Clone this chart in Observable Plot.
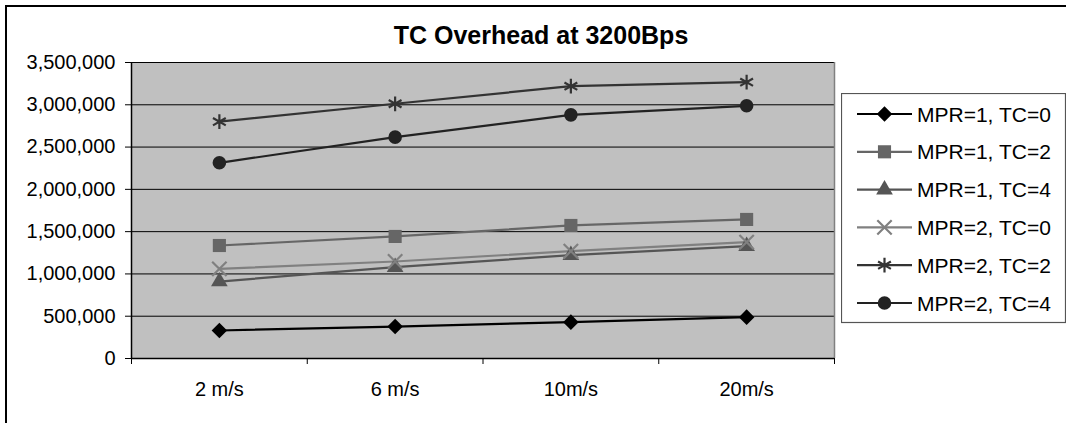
<!DOCTYPE html>
<html>
<head>
<meta charset="utf-8">
<script src="https://cdn.jsdelivr.net/npm/d3@7"></script>
<script src="https://cdn.jsdelivr.net/npm/@observablehq/plot@0.6"></script>
<style>
  html, body { margin: 0; padding: 0; background: #fff; }
  #wrap { position: relative; width: 1066px; height: 423px; overflow: hidden; font-family: "Liberation Sans", Arial, sans-serif; }
  #border { position: absolute; left: 5px; top: 5px; width: 1200px; height: 600px; border: 2px solid #000; box-sizing: border-box; }
  #title { position: absolute; left: 541px; top: 23px; transform: translateX(-50%); font-weight: bold; font-size: 25px; line-height: 25px; white-space: nowrap; color: #000; }
  #chart { position: absolute; left: 0; top: 0; }
  #legend { position: absolute; left: 841px; top: 93px; }
</style>
</head>
<body>
<div id="wrap">
  <div id="border"></div>
  <div id="chart"></div>
  <div id="title">TC Overhead at 3200Bps</div>
  <div id="legend"></div>
</div>
<script>
// ---- data ----
const categories = ["2 m/s", "6 m/s", "10m/s", "20m/s"];
const seriesNames = ["MPR=1, TC=0", "MPR=1, TC=2", "MPR=1, TC=4", "MPR=2, TC=0", "MPR=2, TC=2", "MPR=2, TC=4"];
const mpr1tc0 = [331000, 378000, 430000, 489000];
const mpr1tc2 = [1336000, 1443000, 1573000, 1644000];
const mpr1tc4 = [910000, 1080000, 1222000, 1328000];
const mpr2tc0 = [1060000, 1147000, 1269000, 1376000];
const mpr2tc2 = [2800000, 3012000, 3220000, 3267000];
const mpr2tc4 = [2314000, 2617000, 2881000, 2988000];
const yTicks = [0, 500000, 1000000, 1500000, 2000000, 2500000, 3000000, 3500000];

// ---- styles ----
const seriesValues = [mpr1tc0, mpr1tc2, mpr1tc4, mpr2tc0, mpr2tc2, mpr2tc4];
const seriesStyle = [
  { color: "#000000", symbol: "diamond2", r: 7.0, filled: true },
  { color: "#666666", symbol: "square", r: 7.4, filled: true },
  { color: "#555555", symbol: "triangle", r: 6.2, filled: true },
  { color: "#808080", symbol: "times", r: 6.6, filled: false },
  { color: "#333333", symbol: "asterisk", r: 7.0, filled: false },
  { color: "#222222", symbol: "circle", r: 6.8, filled: true }
];

const rows = [];
seriesNames.forEach((name, s) => {
  seriesValues[s].forEach((v, i) => rows.push({ series: name, cat: i + 0.5, value: v }));
});

const fmt = d3.format(",");
const font = '"Liberation Sans", Arial, sans-serif';

const marks = [
  Plot.frame({ fill: "#c0c0c0", stroke: null }),
  Plot.gridY(yTicks, { stroke: "#000", strokeOpacity: 1, strokeWidth: 1 }),
  Plot.ruleX([categories.length], { stroke: "#808080", strokeWidth: 1.5 }),
  Plot.ruleX([0], { stroke: "#000", strokeWidth: 1.5 }),
  Plot.ruleY([0], { stroke: "#000", strokeWidth: 1.5 }),
  Plot.axisY({ ticks: yTicks, tickSize: 6, tickPadding: 10, tickFormat: fmt, fontSize: 20, label: null, stroke: "#000" }),
  Plot.axisX({ ticks: d3.range(categories.length + 1), tickSize: 6, tickFormat: () => "", label: null, stroke: "#000" }),
  Plot.axisX({ ticks: categories.map((c, i) => i + 0.5), tickSize: 0, tickPadding: 23, tickFormat: d => categories[Math.floor(d)], fontSize: 20, label: null })
];

seriesNames.forEach((name, s) => {
  const st = seriesStyle[s];
  marks.push(Plot.line(rows.filter(d => d.series === name), { x: "cat", y: "value", stroke: st.color, strokeWidth: 2.2 }));
});
seriesNames.forEach((name, s) => {
  const st = seriesStyle[s];
  const data = rows.filter(d => d.series === name);
  marks.push(Plot.dot(data, st.filled
    ? { x: "cat", y: "value", symbol: () => st.symbol, r: st.r, fill: st.color, stroke: "none" }
    : { x: "cat", y: "value", symbol: () => st.symbol, r: st.r, fill: "none", stroke: st.color, strokeWidth: 2.2 }));
});

const plot = Plot.plot({
  width: 1066,
  height: 423,
  marginLeft: 131,
  marginRight: 232,
  marginTop: 62,
  marginBottom: 65,
  style: { fontFamily: font, fontSize: "20px", color: "#000", background: "transparent", overflow: "visible" },
  x: { type: "linear", domain: [0, categories.length], label: null },
  y: { type: "linear", domain: [0, 3500000], label: null },
  symbol: { type: "identity" },
  marks
});
document.getElementById("chart").appendChild(plot);

// ---- legend ----
const lw = 224, lh = 229;
const lsvg = d3.select("#legend").append("svg").attr("width", lw + 2).attr("height", lh + 2);
lsvg.append("rect").attr("x", 0.5).attr("y", 0.5).attr("width", lw).attr("height", lh)
  .attr("fill", "#fff").attr("stroke", "#555").attr("stroke-width", 1.2);
const symbolMap = {
  diamond2: d3.symbolDiamond2, square: d3.symbolSquare, triangle: d3.symbolTriangle,
  times: d3.symbolTimes, asterisk: d3.symbolAsterisk, circle: d3.symbolCircle
};
seriesNames.forEach((name, s) => {
  const st = seriesStyle[s];
  const y = 21 + s * 37.8;
  const g = lsvg.append("g").attr("transform", `translate(0,${y})`);
  g.append("line").attr("x1", 16).attr("x2", 71).attr("y1", 0).attr("y2", 0)
    .attr("stroke", st.color).attr("stroke-width", 2.2);
  const path = d3.symbol(symbolMap[st.symbol], st.r * st.r * Math.PI)();
  const p = g.append("path").attr("d", path).attr("transform", "translate(43.5,0)");
  if (st.filled) p.attr("fill", st.color);
  else p.attr("fill", "none").attr("stroke", st.color).attr("stroke-width", 2.2);
  g.append("text").attr("x", 76).attr("y", 7.5).attr("font-family", font).attr("font-size", 21)
    .attr("fill", "#000").text(name);
});
</script>
</body>
</html>
